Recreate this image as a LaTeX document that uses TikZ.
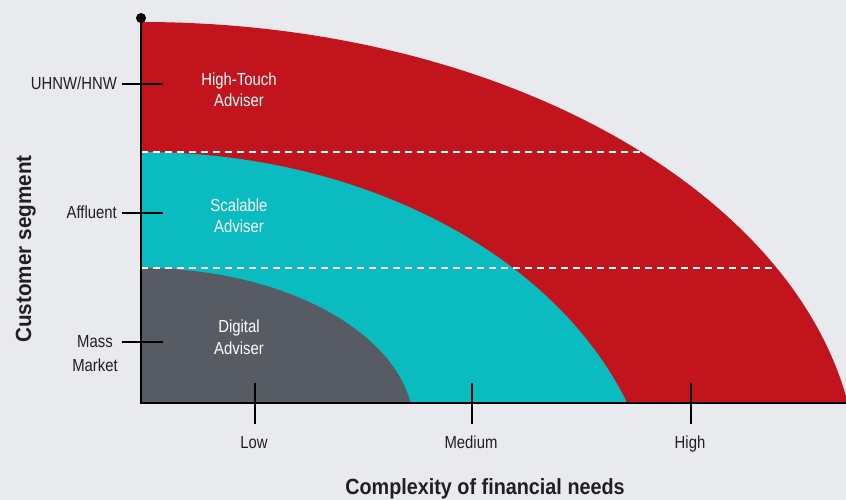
\documentclass[tikz,border=0pt]{standalone}
\usepackage{fontspec}
\setmainfont{Liberation Sans}[FakeStretch=0.85]
\newfontfamily\heavyfont{Liberation Sans}[FakeStretch=0.9]
\newfontfamily\sideheavyfont{Liberation Sans}[FakeStretch=0.94]
\definecolor{bgc}{HTML}{E9EAEE}
\definecolor{touchred}{HTML}{C1141C}
\definecolor{scaleteal}{HTML}{0ABBBF}
\definecolor{digigray}{HTML}{575B63}
\definecolor{ink}{HTML}{231F20}
\begin{document}
\begin{tikzpicture}[x=1pt,y=-1pt,
  axis/.style={draw=black, line width=2.6pt},
  tickmark/.style={draw=black, line width=2.4pt},
  divider/.style={draw=white, line width=2.2pt, dash pattern=on 7pt off 5pt},
  lbl/.style={font=\fontsize{17.5}{21}\selectfont, text=ink, inner sep=0pt},
  inlbl/.style={font=\fontsize{17.5}{21}\selectfont, text=white, inner sep=0pt, anchor=base},
  ttl/.style={font=\heavyfont\bfseries\fontsize{22}{26}\selectfont, text=ink, inner sep=0pt, anchor=base}]

% canvas
\fill[bgc] (0,0) rectangle (846,500);
\useasboundingbox (0,0) rectangle (846,500);

% quadrant bands
\begin{scope}
  \clip (141,0) rectangle (846,403);
  \fill[touchred]  (141,480) ellipse [x radius=717pt, y radius=458pt];
  \fill[scaleteal] (141,530) ellipse [x radius=516pt, y radius=378pt];
  \fill[digigray]  (141,428) ellipse [x radius=273pt, y radius=160pt];
  % segment dividers, kept inside the outer band
  \begin{scope}
    \clip (141,480) ellipse [x radius=717pt, y radius=458pt];
    \draw[divider] (141,152) -- (846,152);
    \draw[divider] (141,268) -- (846,268);
  \end{scope}
\end{scope}

% axes
\coordinate (ytop) at (141,18);
\coordinate (origin) at (141,403);
\coordinate (xend) at (846,403);
\draw[axis, line join=miter] (ytop) -- (origin) -- (xend);
\fill[black] (ytop) circle (5pt);

% y ticks
\draw[tickmark] (122,84) -- (163,84);
\draw[tickmark] (122,213) -- (163,213);
\draw[tickmark] (122,342) -- (163,342);
% x ticks
\draw[tickmark] (255,383) -- (255,424);
\draw[tickmark] (472,383) -- (472,424);
\draw[tickmark] (691,383) -- (691,424);

% y labels
\node[lbl, anchor=base east] (uhnw) at (117,90) {UHNW/HNW};
\node[lbl, anchor=base east] (affl) at (117,218) {Affluent};
\node[lbl, anchor=base] (mass1) at (95,347) {Mass};
\node[lbl, anchor=base] (mass2) at (95,371) {Market};

% x labels
\node[lbl, anchor=base] (low) at (254,448) {Low};
\node[lbl, anchor=base] (med) at (471,448) {Medium};
\node[lbl, anchor=base] (high) at (690,448) {High};

% band labels
\node[inlbl] (ht1) at (239,86) {High-Touch};
\node[inlbl] (ht2) at (239,107) {Adviser};
\node[inlbl] (sc1) at (239,211) {Scalable};
\node[inlbl] (sc2) at (239,232) {Adviser};
\node[inlbl] (dg1) at (239,332) {Digital};
\node[inlbl] (dg2) at (239,354) {Adviser};

% axis titles
\node[ttl] (xtitle) at (485,494) {Complexity of financial needs};
\node[ttl, font=\sideheavyfont\bfseries\fontsize{22}{26}\selectfont, rotate=90] (ytitle) at (31,249) {Customer segment};
\end{tikzpicture}
\end{document}
